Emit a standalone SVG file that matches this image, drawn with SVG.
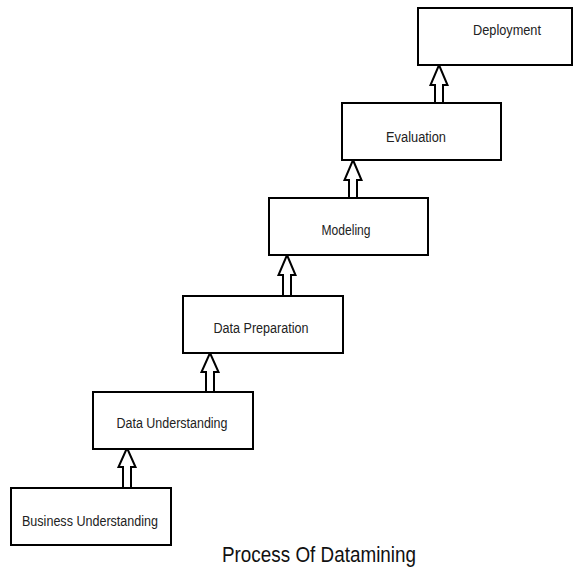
<svg xmlns="http://www.w3.org/2000/svg" width="573" height="568" viewBox="0 0 573 568">
<style>
.box{fill:#fff;stroke:#000;stroke-width:2}
.lbl{font-family:"Liberation Sans",Arial,sans-serif;font-size:14px;fill:#222;text-anchor:middle}
.arr{fill:#fff;stroke:#000;stroke-width:2;stroke-linejoin:miter}
.title{font-family:"Liberation Sans",Arial,sans-serif;font-size:22px;fill:#111;text-anchor:middle}
</style>
<rect width="573" height="568" fill="#fff"/>
<g id="connectors">
<path class="arr" d="M127,448 L135.5,467 L131,467 L131,488 L123,488 L123,467 L118.5,467 Z"/>
<path class="arr" d="M210,353 L218.5,372 L214,372 L214,392 L206,392 L206,372 L201.5,372 Z"/>
<path class="arr" d="M287,255 L295.5,275 L291,275 L291,296 L283,296 L283,275 L278.5,275 Z"/>
<path class="arr" d="M353,160 L361.5,180 L357,180 L357,198 L349,198 L349,180 L344.5,180 Z"/>
<path class="arr" d="M439,65 L447.5,85 L443,85 L443,103 L435,103 L435,85 L430.5,85 Z"/>
</g>
<g id="business-understanding">
<rect class="box" x="11" y="488" width="160" height="57"/>
<text class="lbl" x="90" y="526" textLength="136" lengthAdjust="spacingAndGlyphs">Business Understanding</text>
</g>
<g id="data-understanding">
<rect class="box" x="93" y="392" width="160" height="57"/>
<text class="lbl" x="172" y="428" textLength="111" lengthAdjust="spacingAndGlyphs">Data Understanding</text>
</g>
<g id="data-preparation">
<rect class="box" x="183" y="296" width="160" height="57"/>
<text class="lbl" x="261" y="333" textLength="95" lengthAdjust="spacingAndGlyphs">Data Preparation</text>
</g>
<g id="modeling">
<rect class="box" x="269" y="198" width="159" height="57"/>
<text class="lbl" x="346" y="235" textLength="49" lengthAdjust="spacingAndGlyphs">Modeling</text>
</g>
<g id="evaluation">
<rect class="box" x="342" y="103" width="159" height="57"/>
<text class="lbl" x="416" y="142" textLength="60" lengthAdjust="spacingAndGlyphs">Evaluation</text>
</g>
<g id="deployment">
<rect class="box" x="418" y="8" width="154" height="57"/>
<text class="lbl" x="507" y="35" textLength="68" lengthAdjust="spacingAndGlyphs">Deployment</text>
</g>
<text class="title" x="319" y="562" textLength="194" lengthAdjust="spacingAndGlyphs">Process Of Datamining</text>
</svg>
